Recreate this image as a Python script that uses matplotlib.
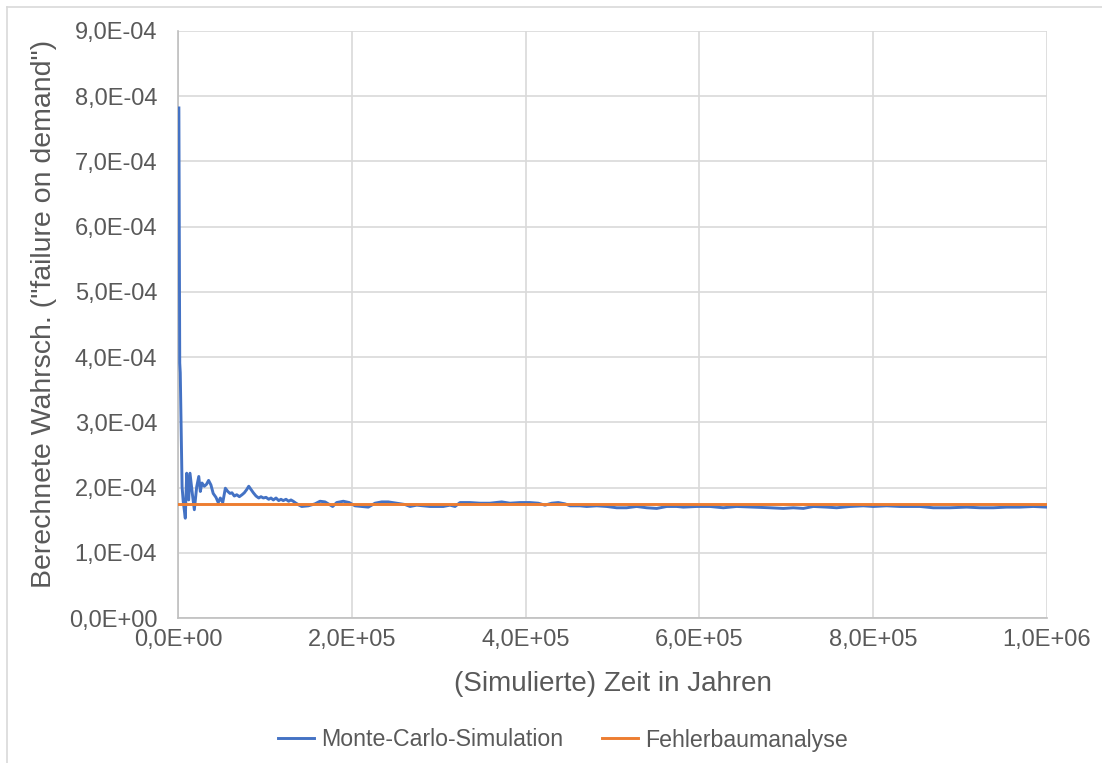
import matplotlib
matplotlib.use("Agg")
import matplotlib.pyplot as plt
from matplotlib.ticker import FuncFormatter, MultipleLocator
from matplotlib.lines import Line2D

# Simulated time (years) and running estimate of the failure-on-demand probability
sim_years = [
    1000, 2000, 2600, 4700, 6000, 8400, 10000, 12300, 13800, 16900, 18800,
    21500, 23900, 25700, 27600, 30300, 32800, 35200, 37900, 40500, 43700,
    46300, 48700, 51500, 54500, 57300, 59800, 62100, 64800, 67600, 70600,
    73700, 76300, 79100, 81400, 84000, 86700, 89800, 92900, 95500, 98200,
    101300, 104400, 107000, 109700, 112800, 115900, 118500, 121100, 124300,
    127300, 130000, 132600, 135800, 139500, 142300, 150000, 157600, 163400,
    169200, 173000, 178000, 182600, 190200, 197100, 203700, 211400, 219000,
    226700, 234400, 242000, 251700, 261200, 267000, 274700, 282300, 290000,
    297700, 305300, 313000, 318800, 324500, 336000, 347500, 359000, 372500,
    382000, 393600, 405100, 414600, 422300, 430000, 437600, 445300, 451100,
    462600, 470300, 481800, 493300, 504800, 516300, 527800, 539400, 550900,
    562400, 573900, 581500, 596900, 612200, 627500, 642900, 662000, 681200,
    696500, 708000, 719600, 731100, 746500, 758000, 773300, 788600, 800100,
    815500, 830800, 853800, 869100, 888400, 907600, 922900, 938200, 953600,
    968900, 984200, 1000000,
]
mc_prob = [
    7.82e-4, 3.91e-4, 3.76e-4, 2.01e-4, 1.79e-4, 1.53e-4, 2.22e-4, 1.81e-4,
    2.22e-4, 1.86e-4, 1.66e-4, 2.01e-4, 2.17e-4, 1.94e-4, 2.07e-4, 2.02e-4,
    2.05e-4, 2.11e-4, 2.04e-4, 1.91e-4, 1.85e-4, 1.77e-4, 1.84e-4, 1.77e-4,
    1.99e-4, 1.94e-4, 1.91e-4, 1.92e-4, 1.87e-4, 1.89e-4, 1.86e-4, 1.89e-4,
    1.92e-4, 1.97e-4, 2.02e-4, 1.97e-4, 1.92e-4, 1.87e-4, 1.84e-4, 1.86e-4,
    1.84e-4, 1.85e-4, 1.82e-4, 1.84e-4, 1.81e-4, 1.84e-4, 1.80e-4, 1.82e-4,
    1.80e-4, 1.82e-4, 1.79e-4, 1.81e-4, 1.79e-4, 1.76e-4, 1.73e-4, 1.71e-4,
    1.72e-4, 1.75e-4, 1.79e-4, 1.78e-4, 1.75e-4, 1.71e-4, 1.77e-4, 1.79e-4,
    1.77e-4, 1.72e-4, 1.71e-4, 1.70e-4, 1.76e-4, 1.78e-4, 1.78e-4, 1.76e-4,
    1.74e-4, 1.71e-4, 1.73e-4, 1.72e-4, 1.71e-4, 1.71e-4, 1.71e-4, 1.73e-4,
    1.71e-4, 1.77e-4, 1.77e-4, 1.76e-4, 1.76e-4, 1.78e-4, 1.76e-4, 1.77e-4,
    1.77e-4, 1.76e-4, 1.73e-4, 1.76e-4, 1.77e-4, 1.75e-4, 1.72e-4, 1.72e-4,
    1.71e-4, 1.72e-4, 1.71e-4, 1.69e-4, 1.69e-4, 1.71e-4, 1.69e-4, 1.68e-4,
    1.71e-4, 1.71e-4, 1.70e-4, 1.71e-4, 1.71e-4, 1.69e-4, 1.71e-4, 1.70e-4,
    1.69e-4, 1.68e-4, 1.69e-4, 1.68e-4, 1.71e-4, 1.70e-4, 1.69e-4, 1.71e-4,
    1.72e-4, 1.71e-4, 1.72e-4, 1.71e-4, 1.71e-4, 1.69e-4, 1.69e-4, 1.70e-4,
    1.69e-4, 1.69e-4, 1.70e-4, 1.70e-4, 1.71e-4, 1.70e-4,
]

# Fault tree analysis result (constant)
fta_years = [0, 1000000]
fta_prob = [1.75e-4, 1.75e-4]

series_names = ["Monte-Carlo-Simulation", "Fehlerbaumanalyse"]
x_title = "(Simulierte) Zeit in Jahren"
y_title = 'Berechnete Wahrsch. ("failure on demand")'

BLUE = "#4472C4"
ORANGE = "#ED7D31"
GRID = "#D9D9D9"
TEXT = "#595959"

plt.rcParams["font.family"] = ["Liberation Sans", "DejaVu Sans"]

fig = plt.figure(figsize=(11.02, 7.63), dpi=100)
ax = fig.add_axes([178 / 1102, 1 - 618 / 763, (1047 - 178) / 1102, (618 - 31) / 763])

ax.plot(sim_years, mc_prob, color=BLUE, lw=2.1, solid_joinstyle="round",
        label=series_names[0], zorder=3)
ax.plot(fta_years, fta_prob, color=ORANGE, lw=2.1, label=series_names[1], zorder=4)

ax.set_xlim(0, 1.0e6)
ax.set_ylim(0, 9.0e-4)
ax.xaxis.set_major_locator(MultipleLocator(2.0e5))
ax.yaxis.set_major_locator(MultipleLocator(1.0e-4))


def excel_sci(v, pos):
    return f"{v:.1E}".replace(".", ",")


ax.xaxis.set_major_formatter(FuncFormatter(excel_sci))
ax.yaxis.set_major_formatter(FuncFormatter(excel_sci))

ax.grid(True, color=GRID, lw=1.2, zorder=0)
ax.set_axisbelow(True)
for side in ("top", "right"):
    ax.spines[side].set_visible(False)
for side in ("left", "bottom"):
    ax.spines[side].set_color("#BFBFBF")
    ax.spines[side].set_linewidth(1.2)

ax.tick_params(axis="both", length=0, labelsize=17, labelcolor=TEXT)
ax.tick_params(axis="y", pad=15)
ax.tick_params(axis="x", pad=8)

ax.set_xlabel(x_title, fontsize=20, color=TEXT, labelpad=14)
ax.set_ylabel(y_title, fontsize=20.5, color=TEXT)
ax.yaxis.set_label_coords((57 - 178) / 869, 0.518)

fig.legend(loc="center", bbox_to_anchor=(563 / 1102, 1 - 740 / 763), ncol=2,
           frameon=False, fontsize=16.7, labelcolor=TEXT, handlelength=1.55,
           handletextpad=0.3, columnspacing=1.7)

# chart area border
fig.add_artist(Line2D([7 / 1102, 7 / 1102], [0, 1 - 7 / 763], transform=fig.transFigure,
                      color=GRID, lw=1.2))
fig.add_artist(Line2D([7 / 1102, 1], [1 - 7 / 763, 1 - 7 / 763], transform=fig.transFigure,
                      color=GRID, lw=1.2))

fig.savefig("out.png", dpi=100, facecolor="white")
